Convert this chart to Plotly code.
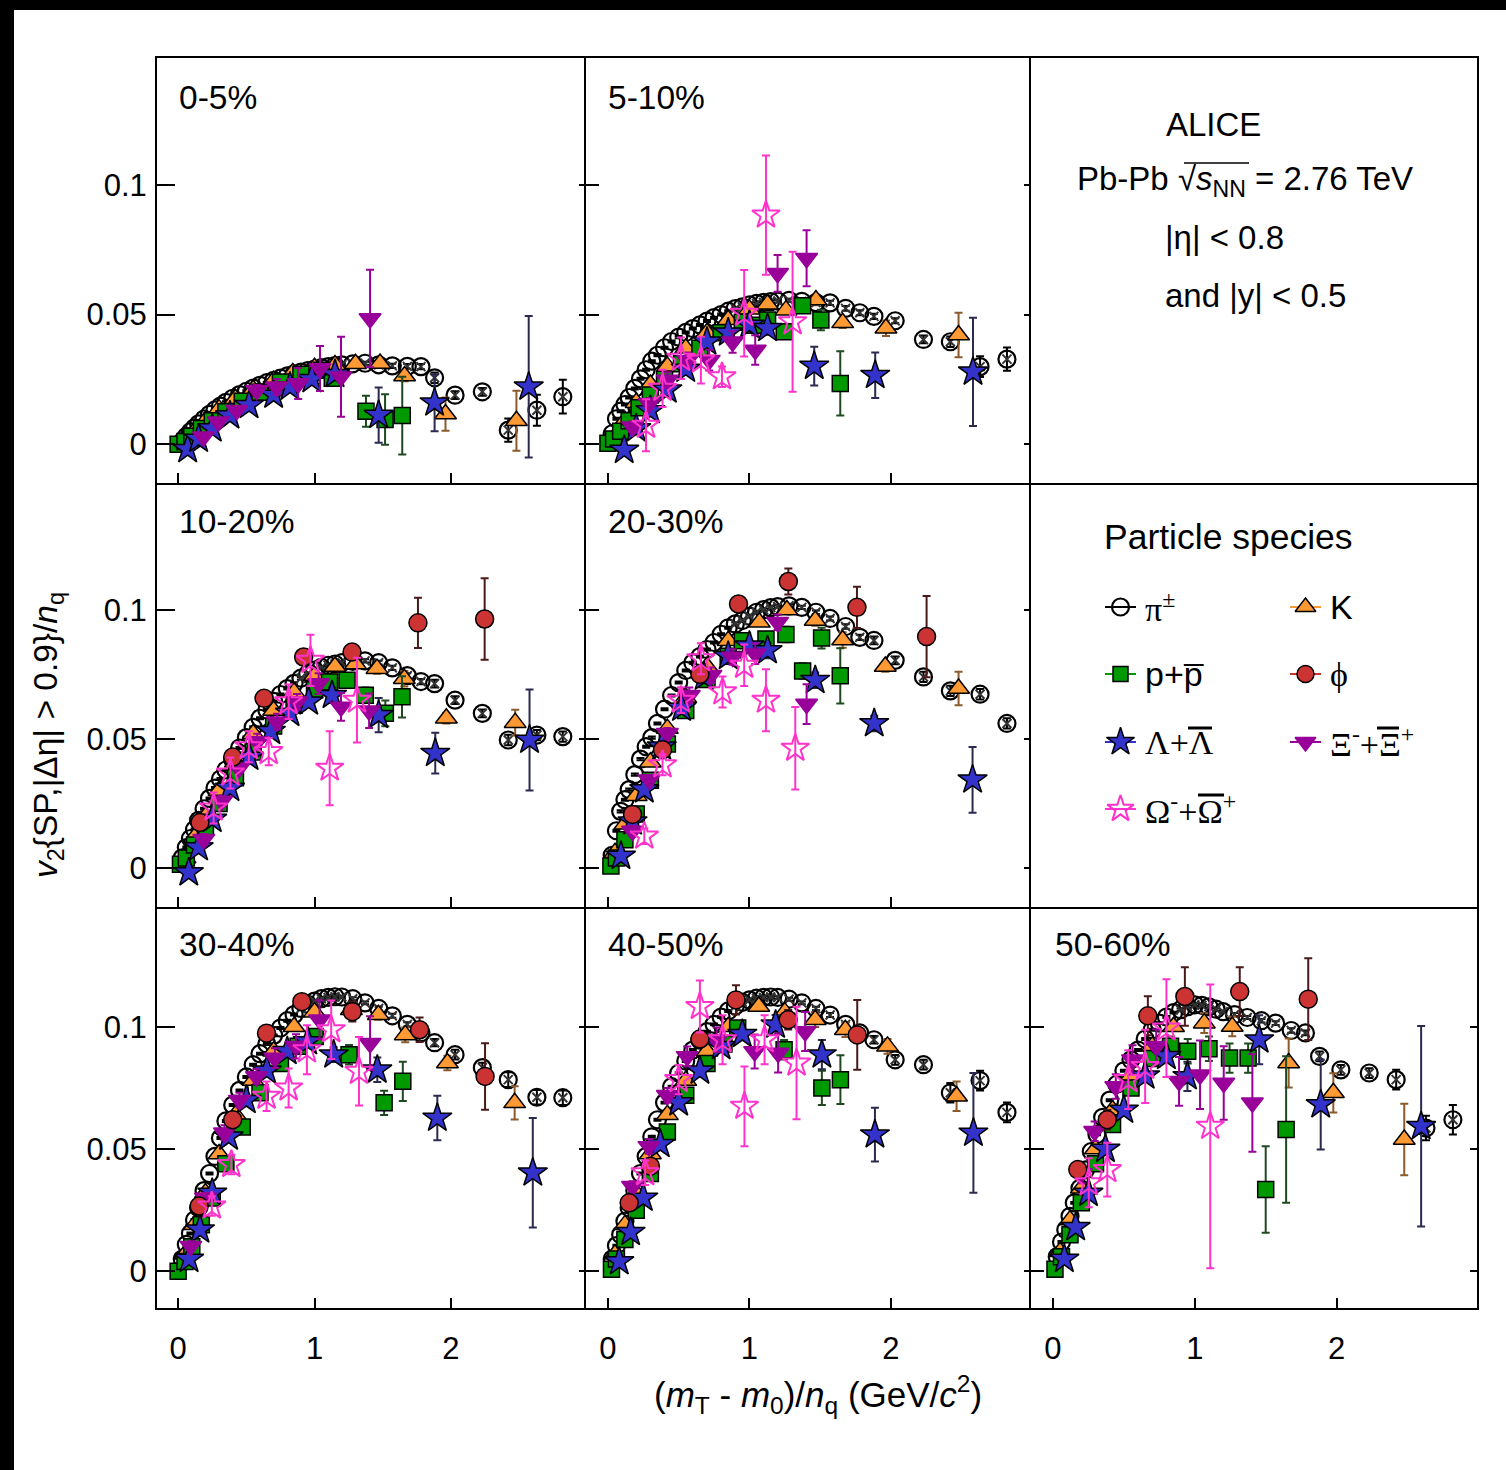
import plotly.graph_objects as go

W, H = 1506, 1470
FONT = "Liberation Sans"
SERIF = "Liberation Serif"

CENT = ["0-5%", "5-10%", "10-20%", "20-30%", "30-40%", "40-50%", "50-60%"]
X_TICKS = [0, 1, 2]
X_TICK_TEXT = ["0", "1", "2"]
Y_TICKS = [0, 0.05, 0.1]
Y_TICK_TEXT = ["0", "0.05", "0.1"]

# ---------------- pions (shared x bins) ----------------
PI_X = [0.03, 0.06, 0.09, 0.12, 0.15, 0.19, 0.23, 0.27, 0.31, 0.35, 0.40, 0.45, 0.50, 0.55, 0.60, 0.65,
        0.70, 0.75, 0.80, 0.85, 0.90, 0.95, 1.00, 1.05, 1.10, 1.15, 1.20, 1.28, 1.37, 1.47, 1.57, 1.68,
        1.78, 1.88, 2.03, 2.23, 2.42, 2.63, 2.82]
PI_Y_0 = [0.001, 0.003, 0.0048, 0.0063, 0.0078, 0.0097, 0.0115, 0.0132, 0.0147, 0.0161, 0.0177, 0.0191, 0.0204,
          0.0216, 0.0227, 0.0237, 0.0246, 0.0255, 0.0263, 0.0271, 0.0278, 0.0284, 0.029, 0.0295, 0.0299, 0.0303,
          0.0306, 0.031, 0.0312, 0.0306, 0.0302, 0.03, 0.0299, 0.0256, 0.0189, 0.0202, 0.0054, 0.0131, 0.0183]
PI_Y_1 = [0.004, 0.0098, 0.0127, 0.0153, 0.018, 0.0215, 0.0252, 0.0287, 0.032, 0.0343, 0.0372, 0.0396, 0.0413,
          0.0431, 0.0446, 0.046, 0.0475, 0.0488, 0.05, 0.0513, 0.0523, 0.053, 0.0537, 0.0543, 0.0547, 0.055,
          0.0552, 0.0555, 0.0551, 0.0546, 0.0545, 0.0524, 0.0507, 0.0493, 0.0476, 0.0404, 0.0395, 0.0299, 0.0328]
PI_Y_2 = [0.004, 0.008, 0.0115, 0.015, 0.0185, 0.023, 0.027, 0.031, 0.0345, 0.038, 0.042, 0.0465, 0.0505,
          0.0545, 0.058, 0.0612, 0.0645, 0.0672, 0.0695, 0.0715, 0.0735, 0.0752, 0.0766, 0.0777, 0.0785, 0.079,
          0.0795, 0.08, 0.0802, 0.0795, 0.0775, 0.0745, 0.0722, 0.0714, 0.065, 0.0599, 0.0496, 0.0515, 0.0509]
PI_Y_3 = [0.005, 0.0145, 0.022, 0.0265, 0.0304, 0.0362, 0.0422, 0.047, 0.0505, 0.056, 0.0615, 0.0668, 0.0718,
          0.0765, 0.0795, 0.0819, 0.0846, 0.0873, 0.0905, 0.093, 0.0945, 0.0958, 0.0975, 0.099, 0.1, 0.1008,
          0.1012, 0.1015, 0.1009, 0.099, 0.0966, 0.0935, 0.0893, 0.0881, 0.0804, 0.074, 0.0686, 0.0673, 0.056]
PI_Y_4 = [0.005, 0.011, 0.0155, 0.021, 0.026, 0.033, 0.04, 0.047, 0.0545, 0.0615, 0.068, 0.074, 0.0795,
          0.0845, 0.089, 0.093, 0.0965, 0.0995, 0.1025, 0.105, 0.1075, 0.1092, 0.1105, 0.1115, 0.112, 0.1123,
          0.1122, 0.1115, 0.1098, 0.1075, 0.1045, 0.101, 0.0976, 0.0935, 0.0886, 0.0833, 0.0784, 0.0712, 0.071]
PI_Y_5 = [0.005, 0.0105, 0.015, 0.0205, 0.026, 0.033, 0.04, 0.047, 0.055, 0.062, 0.069, 0.0755, 0.081,
          0.086, 0.0905, 0.0945, 0.098, 0.101, 0.104, 0.1065, 0.1085, 0.11, 0.111, 0.1117, 0.112, 0.1122,
          0.112, 0.1113, 0.1098, 0.1075, 0.1048, 0.101, 0.0975, 0.0947, 0.0865, 0.0845, 0.073, 0.078, 0.065]
PI_Y_6 = [0.006, 0.012, 0.017, 0.0225, 0.028, 0.034, 0.0415, 0.049, 0.056, 0.063, 0.07, 0.0765, 0.082,
          0.0865, 0.0905, 0.095, 0.0988, 0.1015, 0.104, 0.1058, 0.107, 0.1082, 0.109, 0.1088, 0.1082, 0.1072,
          0.1062, 0.105, 0.1038, 0.1025, 0.1015, 0.0985, 0.0975, 0.0879, 0.0824, 0.0811, 0.0784, 0.0586, 0.062]
PI_E_0 = [0.0004, 0.0004, 0.0004, 0.0004, 0.0004, 0.0004, 0.0004, 0.0004, 0.0004, 0.0004, 0.0004, 0.0004, 0.0004,
          0.0004, 0.0004, 0.0004, 0.0004, 0.0004, 0.0004, 0.0004, 0.0005, 0.0005, 0.0005, 0.0005, 0.0005, 0.0005,
          0.0005, 0.0006, 0.0006, 0.0007, 0.0008, 0.0009, 0.001, 0.002, 0.0015, 0.0015, 0.0045, 0.006, 0.0065]
PI_E_1 = [0.0004, 0.0004, 0.0004, 0.0004, 0.0004, 0.0004, 0.0004, 0.0004, 0.0004, 0.0004, 0.0004, 0.0004, 0.0004,
          0.0004, 0.0004, 0.0004, 0.0004, 0.0004, 0.0004, 0.0004, 0.0005, 0.0005, 0.0005, 0.0005, 0.0005, 0.0005,
          0.0005, 0.0006, 0.0006, 0.0007, 0.0008, 0.0009, 0.001, 0.001, 0.001, 0.0015, 0.002, 0.004, 0.0045]
PI_E_2 = [0.0004, 0.0004, 0.0004, 0.0004, 0.0004, 0.0004, 0.0004, 0.0004, 0.0004, 0.0004, 0.0004, 0.0004, 0.0004,
          0.0004, 0.0004, 0.0004, 0.0004, 0.0004, 0.0004, 0.0004, 0.0005, 0.0005, 0.0005, 0.0005, 0.0005, 0.0005,
          0.0005, 0.0006, 0.0006, 0.0007, 0.0008, 0.0009, 0.001, 0.0015, 0.0015, 0.0015, 0.002, 0.002, 0.002]
PI_E_3 = [0.0004, 0.0004, 0.0004, 0.0004, 0.0004, 0.0004, 0.0004, 0.0004, 0.0004, 0.0004, 0.0004, 0.0004, 0.0004,
          0.0004, 0.0004, 0.0004, 0.0004, 0.0004, 0.0004, 0.0004, 0.0005, 0.0005, 0.0005, 0.0005, 0.0005, 0.0005,
          0.0005, 0.0006, 0.0006, 0.0007, 0.0008, 0.0009, 0.001, 0.0015, 0.0015, 0.002, 0.002, 0.002, 0.002]
PI_E_4 = [0.0004, 0.0004, 0.0004, 0.0004, 0.0004, 0.0004, 0.0004, 0.0004, 0.0004, 0.0004, 0.0004, 0.0004, 0.0004,
          0.0004, 0.0004, 0.0004, 0.0004, 0.0004, 0.0004, 0.0004, 0.0005, 0.0005, 0.0005, 0.0005, 0.0005, 0.0005,
          0.0005, 0.0006, 0.0006, 0.0007, 0.0008, 0.0009, 0.001, 0.0015, 0.002, 0.002, 0.003, 0.003, 0.003]
PI_E_5 = [0.0004, 0.0004, 0.0004, 0.0004, 0.0004, 0.0004, 0.0004, 0.0004, 0.0004, 0.0004, 0.0004, 0.0004, 0.0004,
          0.0004, 0.0004, 0.0004, 0.0004, 0.0004, 0.0004, 0.0004, 0.0005, 0.0005, 0.0005, 0.0005, 0.0005, 0.0005,
          0.0005, 0.0006, 0.0006, 0.0007, 0.0008, 0.0009, 0.001, 0.0015, 0.002, 0.002, 0.004, 0.004, 0.004]
PI_E_6 = [0.0004, 0.0004, 0.0004, 0.0004, 0.0004, 0.0004, 0.0004, 0.0004, 0.0004, 0.0004, 0.0004, 0.0004, 0.0004,
          0.0004, 0.0004, 0.0004, 0.0004, 0.0004, 0.0004, 0.0004, 0.0005, 0.0005, 0.0005, 0.0005, 0.0005, 0.0005,
          0.0005, 0.0006, 0.0006, 0.0007, 0.0008, 0.0009, 0.001, 0.002, 0.002, 0.002, 0.004, 0.005, 0.006]

# ---------------- kaons ----------------
K_X_0 = [0.05, 0.12, 0.2, 0.3, 0.42, 0.55, 0.7, 0.84, 1.0, 1.15, 1.3, 1.48, 1.66, 1.96, 2.48]
K_Y_0 = [0.0015, 0.005, 0.009, 0.0135, 0.0175, 0.021, 0.0245, 0.0275, 0.0295, 0.0305, 0.031, 0.0311, 0.0263, 0.0116, 0.009]
K_E_0 = [0.0005, 0.0005, 0.0005, 0.0005, 0.0005, 0.0005, 0.0006, 0.0007, 0.0008, 0.001, 0.001, 0.0015, 0.002, 0.0064, 0.0116]
K_X_1 = [0.05, 0.12, 0.2, 0.3, 0.42, 0.55, 0.7, 0.85, 1.0, 1.128, 1.258, 1.47, 1.659, 1.965, 2.478]
K_Y_1 = [0.003, 0.009, 0.016, 0.023, 0.03, 0.037, 0.043, 0.048, 0.052, 0.054, 0.0517, 0.0556, 0.0468, 0.0447, 0.0421]
K_E_1 = [0.0005, 0.0005, 0.0005, 0.0006, 0.0006, 0.0007, 0.0008, 0.0009, 0.001, 0.001, 0.0015, 0.002, 0.002, 0.003, 0.0086]
K_X_2 = [0.05, 0.12, 0.2, 0.3, 0.42, 0.55, 0.7, 0.85, 1.0, 1.15, 1.3, 1.458, 1.658, 1.966, 2.471]
K_Y_2 = [0.004, 0.012, 0.02, 0.03, 0.041, 0.052, 0.061, 0.068, 0.0745, 0.078, 0.079, 0.0772, 0.0733, 0.058, 0.0563]
K_E_2 = [0.0005, 0.0005, 0.0005, 0.0006, 0.0006, 0.0007, 0.0008, 0.0009, 0.001, 0.001, 0.0015, 0.002, 0.003, 0.002, 0.005]
K_X_3 = [0.05, 0.12, 0.2, 0.3, 0.42, 0.55, 0.7, 0.85, 1.07, 1.265, 1.465, 1.659, 1.96, 2.478]
K_Y_3 = [0.006, 0.017, 0.028, 0.041, 0.054, 0.066, 0.078, 0.088, 0.0951, 0.0999, 0.0958, 0.0883, 0.078, 0.0695]
K_E_3 = [0.0005, 0.0005, 0.0006, 0.0006, 0.0007, 0.0008, 0.0009, 0.001, 0.0012, 0.0015, 0.002, 0.003, 0.002, 0.0065]
K_X_4 = [0.05, 0.12, 0.2, 0.3, 0.42, 0.55, 0.7, 0.85, 1.0, 1.27, 1.468, 1.665, 1.974, 2.467]
K_Y_4 = [0.007, 0.019, 0.032, 0.048, 0.064, 0.078, 0.09, 0.1, 0.106, 0.107, 0.1049, 0.0967, 0.0852, 0.0689]
K_E_4 = [0.0005, 0.0005, 0.0006, 0.0006, 0.0007, 0.0008, 0.0009, 0.001, 0.0012, 0.0015, 0.002, 0.003, 0.003, 0.0068]
K_X_5 = [0.05, 0.12, 0.2, 0.3, 0.42, 0.55, 0.7, 0.85, 1.066, 1.25, 1.465, 1.678, 1.976, 2.464]
K_Y_5 = [0.007, 0.019, 0.032, 0.048, 0.064, 0.078, 0.09, 0.1, 0.1083, 0.106, 0.1029, 0.0988, 0.092, 0.0716]
K_E_5 = [0.0005, 0.0005, 0.0006, 0.0006, 0.0007, 0.0008, 0.0009, 0.001, 0.0012, 0.0015, 0.003, 0.003, 0.003, 0.006]
K_X_6 = [0.05, 0.12, 0.2, 0.3, 0.42, 0.55, 0.7, 0.85, 1.067, 1.264, 1.662, 1.977, 2.477]
K_Y_6 = [0.008, 0.021, 0.034, 0.05, 0.066, 0.08, 0.092, 0.1, 0.1015, 0.1001, 0.0852, 0.073, 0.0539]
K_E_6 = [0.0005, 0.0006, 0.0006, 0.0007, 0.0008, 0.0009, 0.001, 0.0015, 0.004, 0.004, 0.01, 0.008, 0.0146]

# ---------------- protons ----------------
P_X_0 = [0.0, 0.05, 0.1, 0.17, 0.25, 0.35, 0.47, 0.6, 0.75, 0.9, 1.05, 1.13, 1.377, 1.517, 1.643]
P_Y_0 = [0.0, 0.001, 0.003, 0.006, 0.009, 0.0125, 0.0165, 0.02, 0.024, 0.027, 0.0285, 0.0254, 0.0127, 0.0095, 0.011]
P_E_0 = [0.0005, 0.0005, 0.0005, 0.0005, 0.0005, 0.0005, 0.0005, 0.0006, 0.0007, 0.0008, 0.001, 0.0015, 0.006, 0.0097, 0.015]
P_X_1 = [0.0, 0.04, 0.09, 0.15, 0.22, 0.3, 0.4, 0.52, 0.65, 0.8, 0.95, 1.034, 1.128, 1.246, 1.376, 1.505, 1.642]
P_Y_1 = [0.0003, 0.002, 0.005, 0.009, 0.014, 0.019, 0.025, 0.031, 0.037, 0.043, 0.047, 0.0459, 0.0479, 0.0434, 0.0534, 0.0479, 0.0234]
P_E_1 = [0.0005, 0.0005, 0.0005, 0.0005, 0.0005, 0.0006, 0.0006, 0.0007, 0.0008, 0.001, 0.001, 0.0015, 0.0015, 0.002, 0.0025, 0.004, 0.0124]
P_X_2 = [0.017, 0.06, 0.12, 0.2, 0.3, 0.42, 0.55, 0.7, 0.85, 1.0, 1.11, 1.238, 1.372, 1.519, 1.641]
P_Y_2 = [0.0015, 0.004, 0.009, 0.016, 0.025, 0.035, 0.045, 0.055, 0.063, 0.069, 0.072, 0.0727, 0.0669, 0.0599, 0.0663]
P_E_2 = [0.0005, 0.0005, 0.0005, 0.0005, 0.0006, 0.0006, 0.0007, 0.0008, 0.001, 0.0012, 0.0015, 0.002, 0.003, 0.005, 0.008]
P_X_3 = [0.021, 0.06, 0.12, 0.2, 0.3, 0.42, 0.55, 0.7, 0.85, 0.95, 1.117, 1.258, 1.376, 1.51, 1.642]
P_Y_3 = [0.0009, 0.004, 0.011, 0.021, 0.034, 0.048, 0.061, 0.073, 0.082, 0.088, 0.0887, 0.0904, 0.0763, 0.089, 0.0744]
P_E_3 = [0.0005, 0.0005, 0.0005, 0.0006, 0.0006, 0.0007, 0.0008, 0.001, 0.0012, 0.0015, 0.002, 0.003, 0.003, 0.004, 0.0107]
P_X_4 = [0.0, 0.05, 0.1, 0.17, 0.25, 0.35, 0.47, 0.6, 0.75, 0.88, 1.005, 1.253, 1.51, 1.647]
P_Y_4 = [0.0, 0.004, 0.01, 0.019, 0.03, 0.044, 0.059, 0.073, 0.085, 0.092, 0.096, 0.0886, 0.0689, 0.0777]
P_E_4 = [0.0005, 0.0005, 0.0005, 0.0006, 0.0006, 0.0007, 0.0008, 0.001, 0.0012, 0.0015, 0.002, 0.004, 0.005, 0.008]
P_X_5 = [0.025, 0.06, 0.12, 0.2, 0.3, 0.42, 0.55, 0.7, 0.82, 0.917, 1.245, 1.512, 1.643]
P_Y_5 = [0.0008, 0.005, 0.013, 0.025, 0.04, 0.057, 0.072, 0.085, 0.093, 0.0995, 0.0906, 0.075, 0.0784]
P_E_5 = [0.0005, 0.0005, 0.0005, 0.0006, 0.0006, 0.0007, 0.0008, 0.001, 0.0012, 0.0015, 0.004, 0.007, 0.01]
P_X_6 = [0.014, 0.06, 0.12, 0.2, 0.3, 0.42, 0.55, 0.7, 0.829, 0.95, 1.1, 1.245, 1.376, 1.50, 1.644]
P_Y_6 = [0.0008, 0.006, 0.015, 0.028, 0.044, 0.06, 0.075, 0.087, 0.092, 0.09, 0.091, 0.0872, 0.0872, 0.0335, 0.058]
P_E_6 = [0.0005, 0.0005, 0.0006, 0.0006, 0.0007, 0.0008, 0.001, 0.002, 0.004, 0.005, 0.005, 0.006, 0.006, 0.0177, 0.03]

# ---------------- Lambda ----------------
L_X_0 = [0.07, 0.15, 0.25, 0.38, 0.52, 0.7, 0.82, 0.98, 1.15, 1.47, 1.88, 2.57]
L_Y_0 = [-0.002, 0.002, 0.006, 0.011, 0.015, 0.019, 0.0221, 0.025, 0.027, 0.0112, 0.016, 0.0221]
L_E_0 = [0.0005, 0.0005, 0.0006, 0.0007, 0.0008, 0.001, 0.0012, 0.0015, 0.002, 0.0107, 0.011, 0.0273]
L_X_1 = [0.115, 0.2, 0.3, 0.42, 0.55, 0.7, 0.85, 1.0, 1.128, 1.458, 1.889, 2.58]
L_Y_1 = [-0.0023, 0.006, 0.013, 0.021, 0.029, 0.0395, 0.043, 0.046, 0.0447, 0.0301, 0.0266, 0.0279]
L_E_1 = [0.0005, 0.0006, 0.0007, 0.0008, 0.001, 0.0012, 0.0015, 0.002, 0.0025, 0.0075, 0.0088, 0.0209]
L_X_2 = [0.078, 0.15, 0.25, 0.38, 0.52, 0.68, 0.82, 0.957, 1.128, 1.47, 1.885, 2.576]
L_Y_2 = [-0.0017, 0.008, 0.019, 0.031, 0.043, 0.053, 0.06, 0.0644, 0.0669, 0.0592, 0.0445, 0.0496]
L_E_2 = [0.0005, 0.0006, 0.0007, 0.0008, 0.001, 0.0012, 0.0015, 0.002, 0.003, 0.0066, 0.0079, 0.0195]
L_X_3 = [0.092, 0.174, 0.257, 0.38, 0.52, 0.68, 0.85, 1.0, 1.128, 1.465, 1.882, 2.577]
L_Y_3 = [0.0047, 0.018, 0.0304, 0.047, 0.062, 0.074, 0.082, 0.086, 0.0842, 0.0727, 0.056, 0.0342]
L_E_3 = [0.0005, 0.0006, 0.0007, 0.0008, 0.001, 0.0012, 0.0015, 0.002, 0.003, 0.003, 0.003, 0.0127]
L_X_4 = [0.08, 0.16, 0.25, 0.37, 0.5, 0.65, 0.8, 0.95, 1.14, 1.46, 1.90, 2.60]
L_Y_4 = [0.005, 0.017, 0.032, 0.055, 0.07, 0.082, 0.09, 0.094, 0.0886, 0.0824, 0.0627, 0.0403]
L_E_4 = [0.0005, 0.0006, 0.0007, 0.0008, 0.001, 0.0012, 0.0015, 0.002, 0.003, 0.005, 0.0091, 0.0224]
L_X_5 = [0.08, 0.16, 0.25, 0.37, 0.5, 0.65, 0.8, 0.95, 1.185, 1.512, 1.887, 2.583]
L_Y_5 = [0.004, 0.016, 0.03, 0.052, 0.069, 0.082, 0.092, 0.097, 0.1008, 0.0886, 0.0559, 0.0566]
L_E_5 = [0.0005, 0.0006, 0.0007, 0.0008, 0.001, 0.0012, 0.0015, 0.002, 0.004, 0.006, 0.011, 0.0245]
L_X_6 = [0.08, 0.16, 0.25, 0.37, 0.5, 0.65, 0.8, 0.948, 1.454, 1.888, 2.596]
L_Y_6 = [0.005, 0.018, 0.032, 0.05, 0.066, 0.08, 0.088, 0.0797, 0.0947, 0.0682, 0.0593]
L_E_6 = [0.0006, 0.0007, 0.0008, 0.001, 0.0012, 0.0015, 0.002, 0.006, 0.01, 0.0184, 0.041]

# ---------------- Xi ----------------
X_X_0 = [0.186, 0.295, 0.43, 0.576, 0.723, 0.88, 1.04, 1.194, 1.407]
X_Y_0 = [0.0028, 0.0086, 0.0131, 0.0208, 0.0221, 0.0234, 0.0292, 0.026, 0.0485]
X_E_0 = [0.001, 0.001, 0.0015, 0.002, 0.003, 0.006, 0.0087, 0.0154, 0.0188]
X_X_1 = [0.174, 0.292, 0.42, 0.563, 0.716, 0.881, 1.041, 1.199, 1.404]
X_Y_1 = [0.0067, 0.0157, 0.0247, 0.0324, 0.0324, 0.0395, 0.0363, 0.0659, 0.0717]
X_E_1 = [0.002, 0.002, 0.003, 0.003, 0.004, 0.0042, 0.0057, 0.0071, 0.0108]
X_X_2 = [0.188, 0.32, 0.445, 0.58, 0.725, 0.872, 1.03, 1.194, 1.40]
X_Y_2 = [0.0112, 0.026, 0.0387, 0.049, 0.0567, 0.0644, 0.0714, 0.0624, 0.0609]
X_E_2 = [0.002, 0.002, 0.002, 0.003, 0.003, 0.003, 0.004, 0.0054, 0.0067]
X_X_3 = [0.174, 0.292, 0.42, 0.575, 0.728, 0.881, 1.041, 1.199, 1.404]
X_Y_3 = [0.0144, 0.0342, 0.0522, 0.0669, 0.0746, 0.0817, 0.083, 0.0951, 0.0635]
X_E_3 = [0.002, 0.002, 0.002, 0.003, 0.003, 0.003, 0.004, 0.003, 0.0077]
X_X_4 = [0.093, 0.2, 0.34, 0.45, 0.574, 0.709, 0.864, 1.037, 1.407]
X_Y_4 = [0.0103, 0.03, 0.0567, 0.07, 0.0797, 0.0872, 0.092, 0.1029, 0.0933]
X_E_4 = [0.002, 0.002, 0.003, 0.003, 0.003, 0.004, 0.005, 0.008, 0.011]
X_X_5 = [0.174, 0.29, 0.42, 0.56, 0.769, 1.037, 1.203, 1.394]
X_Y_5 = [0.0348, 0.0511, 0.072, 0.0879, 0.0947, 0.0899, 0.0893, 0.0981]
X_E_5 = [0.002, 0.003, 0.003, 0.004, 0.005, 0.007, 0.008, 0.008]
X_X_6 = [0.2, 0.294, 0.443, 0.561, 0.728, 0.889, 1.037, 1.204, 1.406]
X_Y_6 = [0.04, 0.0573, 0.0756, 0.0865, 0.092, 0.0777, 0.0804, 0.077, 0.0689]
X_E_6 = [0.004, 0.004, 0.005, 0.006, 0.007, 0.01, 0.014, 0.015, 0.02]

# ---------------- phi ----------------
F_X_0, F_Y_0, F_E_0 = [], [], []
F_X_1, F_Y_1, F_E_1 = [], [], []
F_X_2 = [0.16, 0.4, 0.63, 0.92, 1.275, 1.758, 2.247]
F_Y_2 = [0.0177, 0.043, 0.0657, 0.0817, 0.0836, 0.0949, 0.0964]
F_E_2 = [0.002, 0.002, 0.002, 0.003, 0.003, 0.0097, 0.0158]
F_X_3 = [0.174, 0.386, 0.65, 0.923, 1.275, 1.76, 2.252]
F_Y_3 = [0.0208, 0.0458, 0.075, 0.1022, 0.1109, 0.1009, 0.0896]
F_E_3 = [0.002, 0.002, 0.002, 0.003, 0.005, 0.008, 0.0157]
F_X_4 = [0.154, 0.40, 0.648, 0.907, 1.277, 1.77, 2.25]
F_Y_4 = [0.0267, 0.062, 0.0974, 0.1103, 0.1062, 0.0988, 0.0797]
F_E_4 = [0.002, 0.003, 0.003, 0.003, 0.004, 0.005, 0.0136]
F_X_5 = [0.15, 0.3, 0.65, 0.905, 1.274, 1.762]
F_Y_5 = [0.028, 0.043, 0.095, 0.111, 0.1029, 0.0967]
F_E_5 = [0.003, 0.003, 0.003, 0.006, 0.004, 0.0143]
F_X_6 = [0.175, 0.383, 0.669, 0.93, 1.317, 1.80]
F_Y_6 = [0.0416, 0.062, 0.1045, 0.1124, 0.1144, 0.1113]
F_E_6 = [0.003, 0.004, 0.008, 0.012, 0.01, 0.0167]

# ---------------- Omega ----------------
O_X_0, O_Y_0, O_E_0 = [], [], []
O_X_1 = [0.269, 0.386, 0.516, 0.657, 0.806, 0.963, 1.117, 1.305]
O_Y_1 = [0.0073, 0.0215, 0.0331, 0.0324, 0.026, 0.0505, 0.0884, 0.0472]
O_E_1 = [0.01, 0.0072, 0.008, 0.009, 0.004, 0.0167, 0.023, 0.027]
O_X_2 = [0.26, 0.383, 0.518, 0.664, 0.81, 0.97, 1.111, 1.311]
O_Y_2 = [0.0233, 0.0368, 0.047, 0.0451, 0.0644, 0.0804, 0.0387, 0.065]
O_E_2 = [0.006, 0.006, 0.006, 0.0053, 0.0067, 0.0099, 0.0143, 0.0164]
O_X_3 = [0.257, 0.386, 0.516, 0.657, 0.81, 0.963, 1.117, 1.324]
O_Y_3 = [0.0124, 0.04, 0.065, 0.081, 0.0682, 0.0785, 0.065, 0.0464]
O_E_3 = [0.003, 0.004, 0.005, 0.006, 0.006, 0.008, 0.012, 0.016]
O_X_4 = [0.247, 0.39, 0.648, 0.81, 0.944, 1.122, 1.326]
O_Y_4 = [0.0267, 0.0437, 0.0716, 0.075, 0.0906, 0.0988, 0.0818]
O_E_4 = [0.004, 0.004, 0.006, 0.008, 0.01, 0.012, 0.014]
O_X_5 = [0.263, 0.50, 0.65, 0.81, 0.965, 1.107, 1.333]
O_Y_5 = [0.0403, 0.0784, 0.1083, 0.0947, 0.0675, 0.0947, 0.0852]
O_E_5 = [0.005, 0.006, 0.0106, 0.01, 0.0163, 0.01, 0.023]
O_X_6 = [0.252, 0.383, 0.531, 0.65, 0.80, 1.109]
O_Y_6 = [0.0362, 0.0416, 0.0784, 0.0838, 0.0995, 0.0593]
O_E_6 = [0.01, 0.011, 0.012, 0.015, 0.02, 0.058]

# ---------------- tables built from the arrays ----------------
PI_Y = [PI_Y_0, PI_Y_1, PI_Y_2, PI_Y_3, PI_Y_4, PI_Y_5, PI_Y_6]
PI_E = [PI_E_0, PI_E_1, PI_E_2, PI_E_3, PI_E_4, PI_E_5, PI_E_6]
K = [(K_X_0, K_Y_0, K_E_0), (K_X_1, K_Y_1, K_E_1), (K_X_2, K_Y_2, K_E_2), (K_X_3, K_Y_3, K_E_3),
     (K_X_4, K_Y_4, K_E_4), (K_X_5, K_Y_5, K_E_5), (K_X_6, K_Y_6, K_E_6)]
P = [(P_X_0, P_Y_0, P_E_0), (P_X_1, P_Y_1, P_E_1), (P_X_2, P_Y_2, P_E_2), (P_X_3, P_Y_3, P_E_3),
     (P_X_4, P_Y_4, P_E_4), (P_X_5, P_Y_5, P_E_5), (P_X_6, P_Y_6, P_E_6)]
L = [(L_X_0, L_Y_0, L_E_0), (L_X_1, L_Y_1, L_E_1), (L_X_2, L_Y_2, L_E_2), (L_X_3, L_Y_3, L_E_3),
     (L_X_4, L_Y_4, L_E_4), (L_X_5, L_Y_5, L_E_5), (L_X_6, L_Y_6, L_E_6)]
XI = [(X_X_0, X_Y_0, X_E_0), (X_X_1, X_Y_1, X_E_1), (X_X_2, X_Y_2, X_E_2), (X_X_3, X_Y_3, X_E_3),
      (X_X_4, X_Y_4, X_E_4), (X_X_5, X_Y_5, X_E_5), (X_X_6, X_Y_6, X_E_6)]
F = [(F_X_0, F_Y_0, F_E_0), (F_X_1, F_Y_1, F_E_1), (F_X_2, F_Y_2, F_E_2), (F_X_3, F_Y_3, F_E_3),
     (F_X_4, F_Y_4, F_E_4), (F_X_5, F_Y_5, F_E_5), (F_X_6, F_Y_6, F_E_6)]
O = [(O_X_0, O_Y_0, O_E_0), (O_X_1, O_Y_1, O_E_1), (O_X_2, O_Y_2, O_E_2), (O_X_3, O_Y_3, O_E_3),
     (O_X_4, O_Y_4, O_E_4), (O_X_5, O_Y_5, O_E_5), (O_X_6, O_Y_6, O_E_6)]

# species styles: symbol, size, fill, outline, error colour
STY = {
    "K":  dict(symbol="triangle-up", size=19, color="#ff9933", line="black", err="#8c5a2b"),
    "P":  dict(symbol="square", size=16, color="#009900", line="black", err="#1f4a1f"),
    "L":  dict(symbol="star", size=22, color="#3333cc", line="black", err="#2a2a50"),
    "XI": dict(symbol="triangle-down", size=19, color="#990099", line="#990099", err="#990099"),
    "F":  dict(symbol="circle", size=18, color="#cc3333", line="black", err="#4a1a1a"),
    "O":  dict(symbol="star-open", size=21, color="#ff33cc", line="#ff33cc", err="#ff33cc"),
}
ORDER = [("K", K), ("P", P), ("L", L), ("XI", XI), ("F", F), ("O", O)]

# layout geometry (pixels)
COLS = [(157, 586), (586, 1031), (1031, 1477)]
ROWS = [(58, 483), (483, 907), (907, 1308)]
POS = [(0, 0), (0, 1), (1, 0), (1, 1), (2, 0), (2, 1), (2, 2)]
XR = [-0.155, 2.99]
YR = [-0.015, 0.149]


def px(x):
    return x / W


def py(y):
    return 1 - y / H


def xdom(c):
    a, b = COLS[c]
    return [a / W, b / W]


def ydom(r):
    a, b = ROWS[r]
    return [1 - b / H, 1 - a / H]


fig = go.Figure()
layout = {}
TICKFONT = dict(family=FONT, size=31, color="black")

for i, (r, c) in enumerate(POS):
    n = i + 1
    layout[f"xaxis{n}"] = dict(domain=xdom(c), anchor=f"y{n}", range=XR, showline=True, linecolor="black",
                               linewidth=2, mirror=(r == 0), ticks="inside", ticklen=10, tickwidth=2,
                               tickcolor="black", tickvals=X_TICKS, ticktext=X_TICK_TEXT,
                               showticklabels=(r == 2), tickfont=TICKFONT, showgrid=False, zeroline=False,
                               ticklabelstandoff=12)
    layout[f"yaxis{n}"] = dict(domain=ydom(r), anchor=f"x{n}", range=YR, showline=True, linecolor="black",
                               linewidth=2, mirror=(c == 2), ticks="inside", ticklen=(18 if c == 0 else 13),
                               tickwidth=2, tickcolor="black", tickvals=Y_TICKS, ticktext=Y_TICK_TEXT,
                               showticklabels=(c == 0), tickfont=TICKFONT, showgrid=False, zeroline=False,
                               ticklabelstandoff=2)
    # short ticks on the right edge of each panel
    layout[f"yaxis{n + 9}"] = dict(overlaying=f"y{n}", side="right", anchor=f"x{n}", range=YR, ticks="inside",
                                   ticklen=7, tickwidth=2, tickcolor="black", tickvals=Y_TICKS,
                                   showticklabels=False, showline=False, showgrid=False, zeroline=False)
    fig.add_trace(go.Scatter(x=[], y=[], xaxis=f"x{n}", yaxis=f"y{n + 9}", showlegend=False))

    xa, ya = f"x{n}", f"y{n}"
    # pions
    fig.add_trace(go.Scatter(x=PI_X, y=PI_Y[i], xaxis=xa, yaxis=ya, mode="markers",
                             marker=dict(symbol="circle-open", size=17, color="black", line=dict(width=2.2)),
                             error_y=dict(type="data", array=PI_E[i], color="black", thickness=2, width=4)))
    sx = [x for x in PI_X if x >= 0.9]
    sy = [y for x, y in zip(PI_X, PI_Y[i]) if x >= 0.9]
    fig.add_trace(go.Scatter(x=sx, y=sy, xaxis=xa, yaxis=ya, mode="markers",
                             marker=dict(symbol="x-thin-open", size=9, color="#333333", line=dict(width=2))))
    for key, table in ORDER:
        xs, ys, es = table[i]
        if not xs:
            continue
        s = STY[key]
        lw = 2 if key == "O" else 1.5
        fig.add_trace(go.Scatter(x=xs, y=ys, xaxis=xa, yaxis=ya, mode="markers",
                                 marker=dict(symbol=s["symbol"], size=s["size"], color=s["color"],
                                             line=dict(color=s["line"], width=lw)),
                                 error_y=dict(type="data", array=es, color=s["err"], thickness=2, width=4)))

# empty framed panels (text box and legend box)
for n, r in ((8, 0), (9, 1)):
    layout[f"xaxis{n}"] = dict(domain=xdom(2), anchor=f"y{n}", range=[0, 1], showline=True, linecolor="black",
                               linewidth=2, mirror=(r == 0), ticks="", showticklabels=False, showgrid=False,
                               zeroline=False)
    layout[f"yaxis{n}"] = dict(domain=ydom(r), anchor=f"x{n}", range=[0, 1], showline=True, linecolor="black",
                               linewidth=2, mirror=True, ticks="", showticklabels=False, showgrid=False,
                               zeroline=False)
    fig.add_trace(go.Scatter(x=[], y=[], xaxis=f"x{n}", yaxis=f"y{n}"))

# pixel-space overlay axis for the legend samples
layout["xaxis20"] = dict(domain=[0, 1], anchor="y20", range=[0, W], visible=False)
layout["yaxis20"] = dict(domain=[0, 1], anchor="x20", range=[H, 0], visible=False)

LEG_LABELS = ["\u03c0<sup>\u00b1</sup>", "K", "p+p\u0305", "\u03d5", "\u039b+\u039b",
              "\u039e<sup>-</sup>+\u039e<sup>+</sup>", "\u03a9<sup>-</sup>+\u03a9<sup>+</sup>"]
LEG_KEYS = ["PI", "K", "P", "F", "L", "XI", "O"]
LEG_POS = [(1105, 607), (1290, 607), (1105, 674), (1290, 674), (1105, 742), (1290, 742), (1105, 809)]
LEG_LINE = {"PI": "black", "K": "#ff9933", "P": "#009900", "F": "#cc3333", "L": "#3333cc",
            "XI": "#990099", "O": "#ff33cc"}
# bars over the anti-particle symbols (pixel spans, y)
BARS = [(1188, 1212, 728), (1377, 1399, 728), (1198, 1224, 795)]

annotations = []
for lab, key, (x0, y0) in zip(LEG_LABELS, LEG_KEYS, LEG_POS):
    fig.add_trace(go.Scatter(x=[x0, x0 + 31], y=[y0, y0], xaxis="x20", yaxis="y20", mode="lines",
                             line=dict(color=LEG_LINE[key], width=2)))
    if key == "PI":
        mk = dict(symbol="circle-open", size=17, color="black", line=dict(width=2.2))
    else:
        s = STY[key]
        mk = dict(symbol=s["symbol"], size=s["size"] - 1, color=s["color"],
                  line=dict(color=s["line"], width=2 if key == "O" else 1.5))
    fig.add_trace(go.Scatter(x=[x0 + 15.5], y=[y0], xaxis="x20", yaxis="y20", mode="markers", marker=mk))
    fam = FONT if key in ("K", "P") else SERIF
    annotations.append(dict(text=lab, x=px(x0 + 38), y=py(y0), xref="paper", yref="paper", xanchor="left",
                            yanchor="middle", showarrow=False, font=dict(family=fam, size=34, color="black")))

annotations.append(dict(text="Particle species", x=px(1102), y=py(537), xref="paper", yref="paper",
                        xanchor="left", yanchor="middle", showarrow=False,
                        font=dict(family=FONT, size=35.5, color="black")))

# panel labels
LABEL_POS = [(177, 97), (606, 97), (177, 521), (606, 521), (177, 944), (606, 944), (1053, 944)]
for lab, (x0, y0) in zip(CENT, LABEL_POS):
    annotations.append(dict(text=lab, x=px(x0), y=py(y0), xref="paper", yref="paper", xanchor="left",
                            yanchor="middle", showarrow=False, font=dict(family=FONT, size=33.5, color="black")))

# ALICE text box
TXT = dict(family=FONT, size=33, color="black")
annotations += [
    dict(text="ALICE", x=px(1213), y=py(124), xanchor="center"),
    dict(text="Pb-Pb \u221a<i>s</i><sub>NN</sub> = 2.76 TeV", x=px(1075), y=py(181), xanchor="left"),
    dict(text="|\u03b7| < 0.8", x=px(1163), y=py(238), xanchor="left"),
    dict(text="and |y| < 0.5", x=px(1163), y=py(295), xanchor="left"),
]
for a in annotations[-4:]:
    a.update(xref="paper", yref="paper", yanchor="middle", showarrow=False, font=TXT)

# axis titles
annotations.append(dict(text="<i>v</i><sub>2</sub>{SP,|\u0394\u03b7| > 0.9}/<i>n</i><sub>q</sub>",
                        x=px(48), y=py(735), xref="paper", yref="paper", xanchor="center", yanchor="middle",
                        textangle=-90, showarrow=False, font=dict(family=FONT, size=33.5, color="black")))
annotations.append(dict(text="(<i>m</i><sub>T</sub> - <i>m</i><sub>0</sub>)/<i>n</i><sub>q</sub> (GeV/<i>c</i><sup>2</sup>)",
                        x=px(818), y=py(1394), xref="paper", yref="paper", xanchor="center", yanchor="middle",
                        showarrow=False, font=dict(family=FONT, size=35, color="black")))

shapes = [
    dict(type="rect", xref="paper", yref="paper", x0=0, x1=14 / W, y0=0, y1=1, fillcolor="black",
         line=dict(width=0), layer="above"),
    dict(type="rect", xref="paper", yref="paper", x0=0, x1=1, y0=1 - 10 / H, y1=1, fillcolor="black",
         line=dict(width=0), layer="above"),
    dict(type="line", xref="paper", yref="paper", x0=px(1184), x1=px(1249), y0=py(163), y1=py(163),
         line=dict(color="black", width=1.5)),
]
for (a, b, yb) in BARS:
    shapes.append(dict(type="line", xref="paper", yref="paper", x0=px(a), x1=px(b), y0=py(yb), y1=py(yb),
                       line=dict(color="black", width=3)))

fig.update_layout(width=W, height=H, margin=dict(l=0, r=0, t=0, b=0), paper_bgcolor="white",
                  plot_bgcolor="rgba(0,0,0,0)", showlegend=False, annotations=annotations, shapes=shapes,
                  font=dict(family=FONT), **layout)
fig.write_html("out.html")
